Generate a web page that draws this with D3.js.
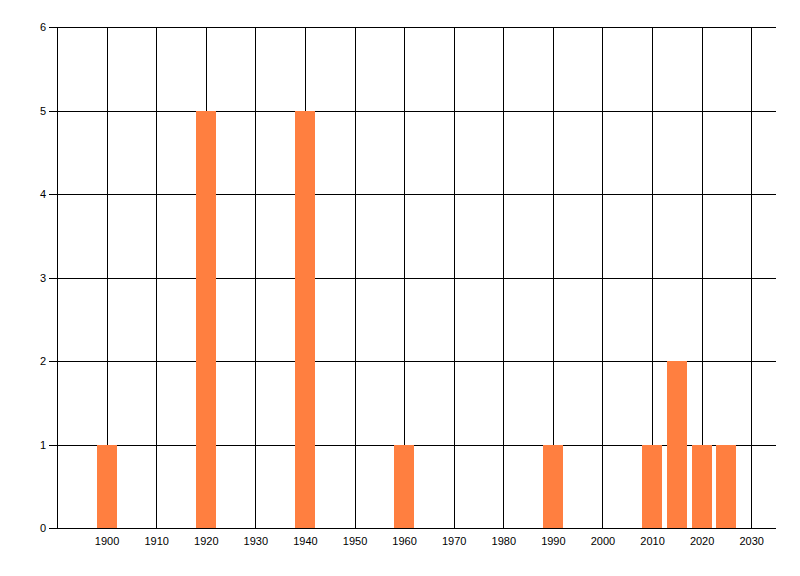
<html>
  <head>
    <script src="https://cdn.jsdelivr.net/npm/d3@7"></script>
    <style>
      * {
        margin: 0;
        padding: 0;
      }
      body {
        background: white;
      }
      .tick text {
        font-family: "Liberation Sans", Arial, sans-serif;
        font-size: 11px;
        fill: black;
      }
    </style>
  </head>
  <body>
    <div id="chart"></div>
    <script>
      const years = [1900, 1920, 1940, 1960, 1990, 2010, 2015, 2020, 2025];
      const counts = [1, 5, 5, 1, 1, 1, 2, 1, 1];
      const xTicks = [1900, 1910, 1920, 1930, 1940, 1950, 1960, 1970, 1980, 1990, 2000, 2010, 2020, 2030];
      const yTicks = [0, 1, 2, 3, 4, 5, 6];

      const w = 800;
      const h = 576;
      const plotLeft = 57;
      const plotRight = 776;
      const plotTop = 27;
      const plotBottom = 528;

      const xScale = d3.scaleLinear().domain([1890, 2035]).range([plotLeft, plotRight]);
      const yScale = d3.scaleLinear().domain([0, 6]).range([plotBottom, plotTop]);
      const barYears = 4;

      const svg = d3
        .select("#chart")
        .append("svg")
        .attr("width", w)
        .attr("height", h);

      const yAxis = d3
        .axisLeft(yScale)
        .tickValues(yTicks)
        .tickSize(-(plotRight - plotLeft) - 8)
        .tickPadding(3)
        .tickFormat(d3.format("d"));

      svg
        .append("g")
        .attr("transform", "translate(" + (plotLeft - 8) + ",0)")
        .call(yAxis)
        .call((g) => g.select(".domain").remove())
        .call((g) => g.selectAll("line").attr("stroke", "black").attr("shape-rendering", "crispEdges"))
        .call((g) => g.selectAll("text").attr("x", -3));

      const xAxis = d3
        .axisBottom(xScale)
        .tickValues(xTicks)
        .tickSize(-(plotBottom - plotTop))
        .tickPadding(9)
        .tickFormat(d3.format("d"));

      svg
        .append("g")
        .attr("transform", "translate(0," + plotBottom + ")")
        .call(xAxis)
        .call((g) => g.select(".domain").remove())
        .call((g) => g.selectAll("line").attr("stroke", "black").attr("shape-rendering", "crispEdges"));

      // left axis line
      svg
        .append("line")
        .attr("x1", plotLeft)
        .attr("x2", plotLeft)
        .attr("y1", plotTop)
        .attr("y2", plotBottom)
        .attr("stroke", "black")
        .attr("shape-rendering", "crispEdges");

      // bars sit on top of the grid
      svg
        .append("g")
        .selectAll("rect")
        .data(years)
        .enter()
        .append("rect")
        .attr("x", (d) => xScale(d - barYears / 2))
        .attr("y", (d, i) => yScale(counts[i]))
        .attr("width", xScale(barYears) - xScale(0))
        .attr("height", (d, i) => yScale(0) - yScale(counts[i]))
        .attr("fill", "#ff7f40")
        .attr("shape-rendering", "crispEdges");
    </script>
  </body>
</html>
